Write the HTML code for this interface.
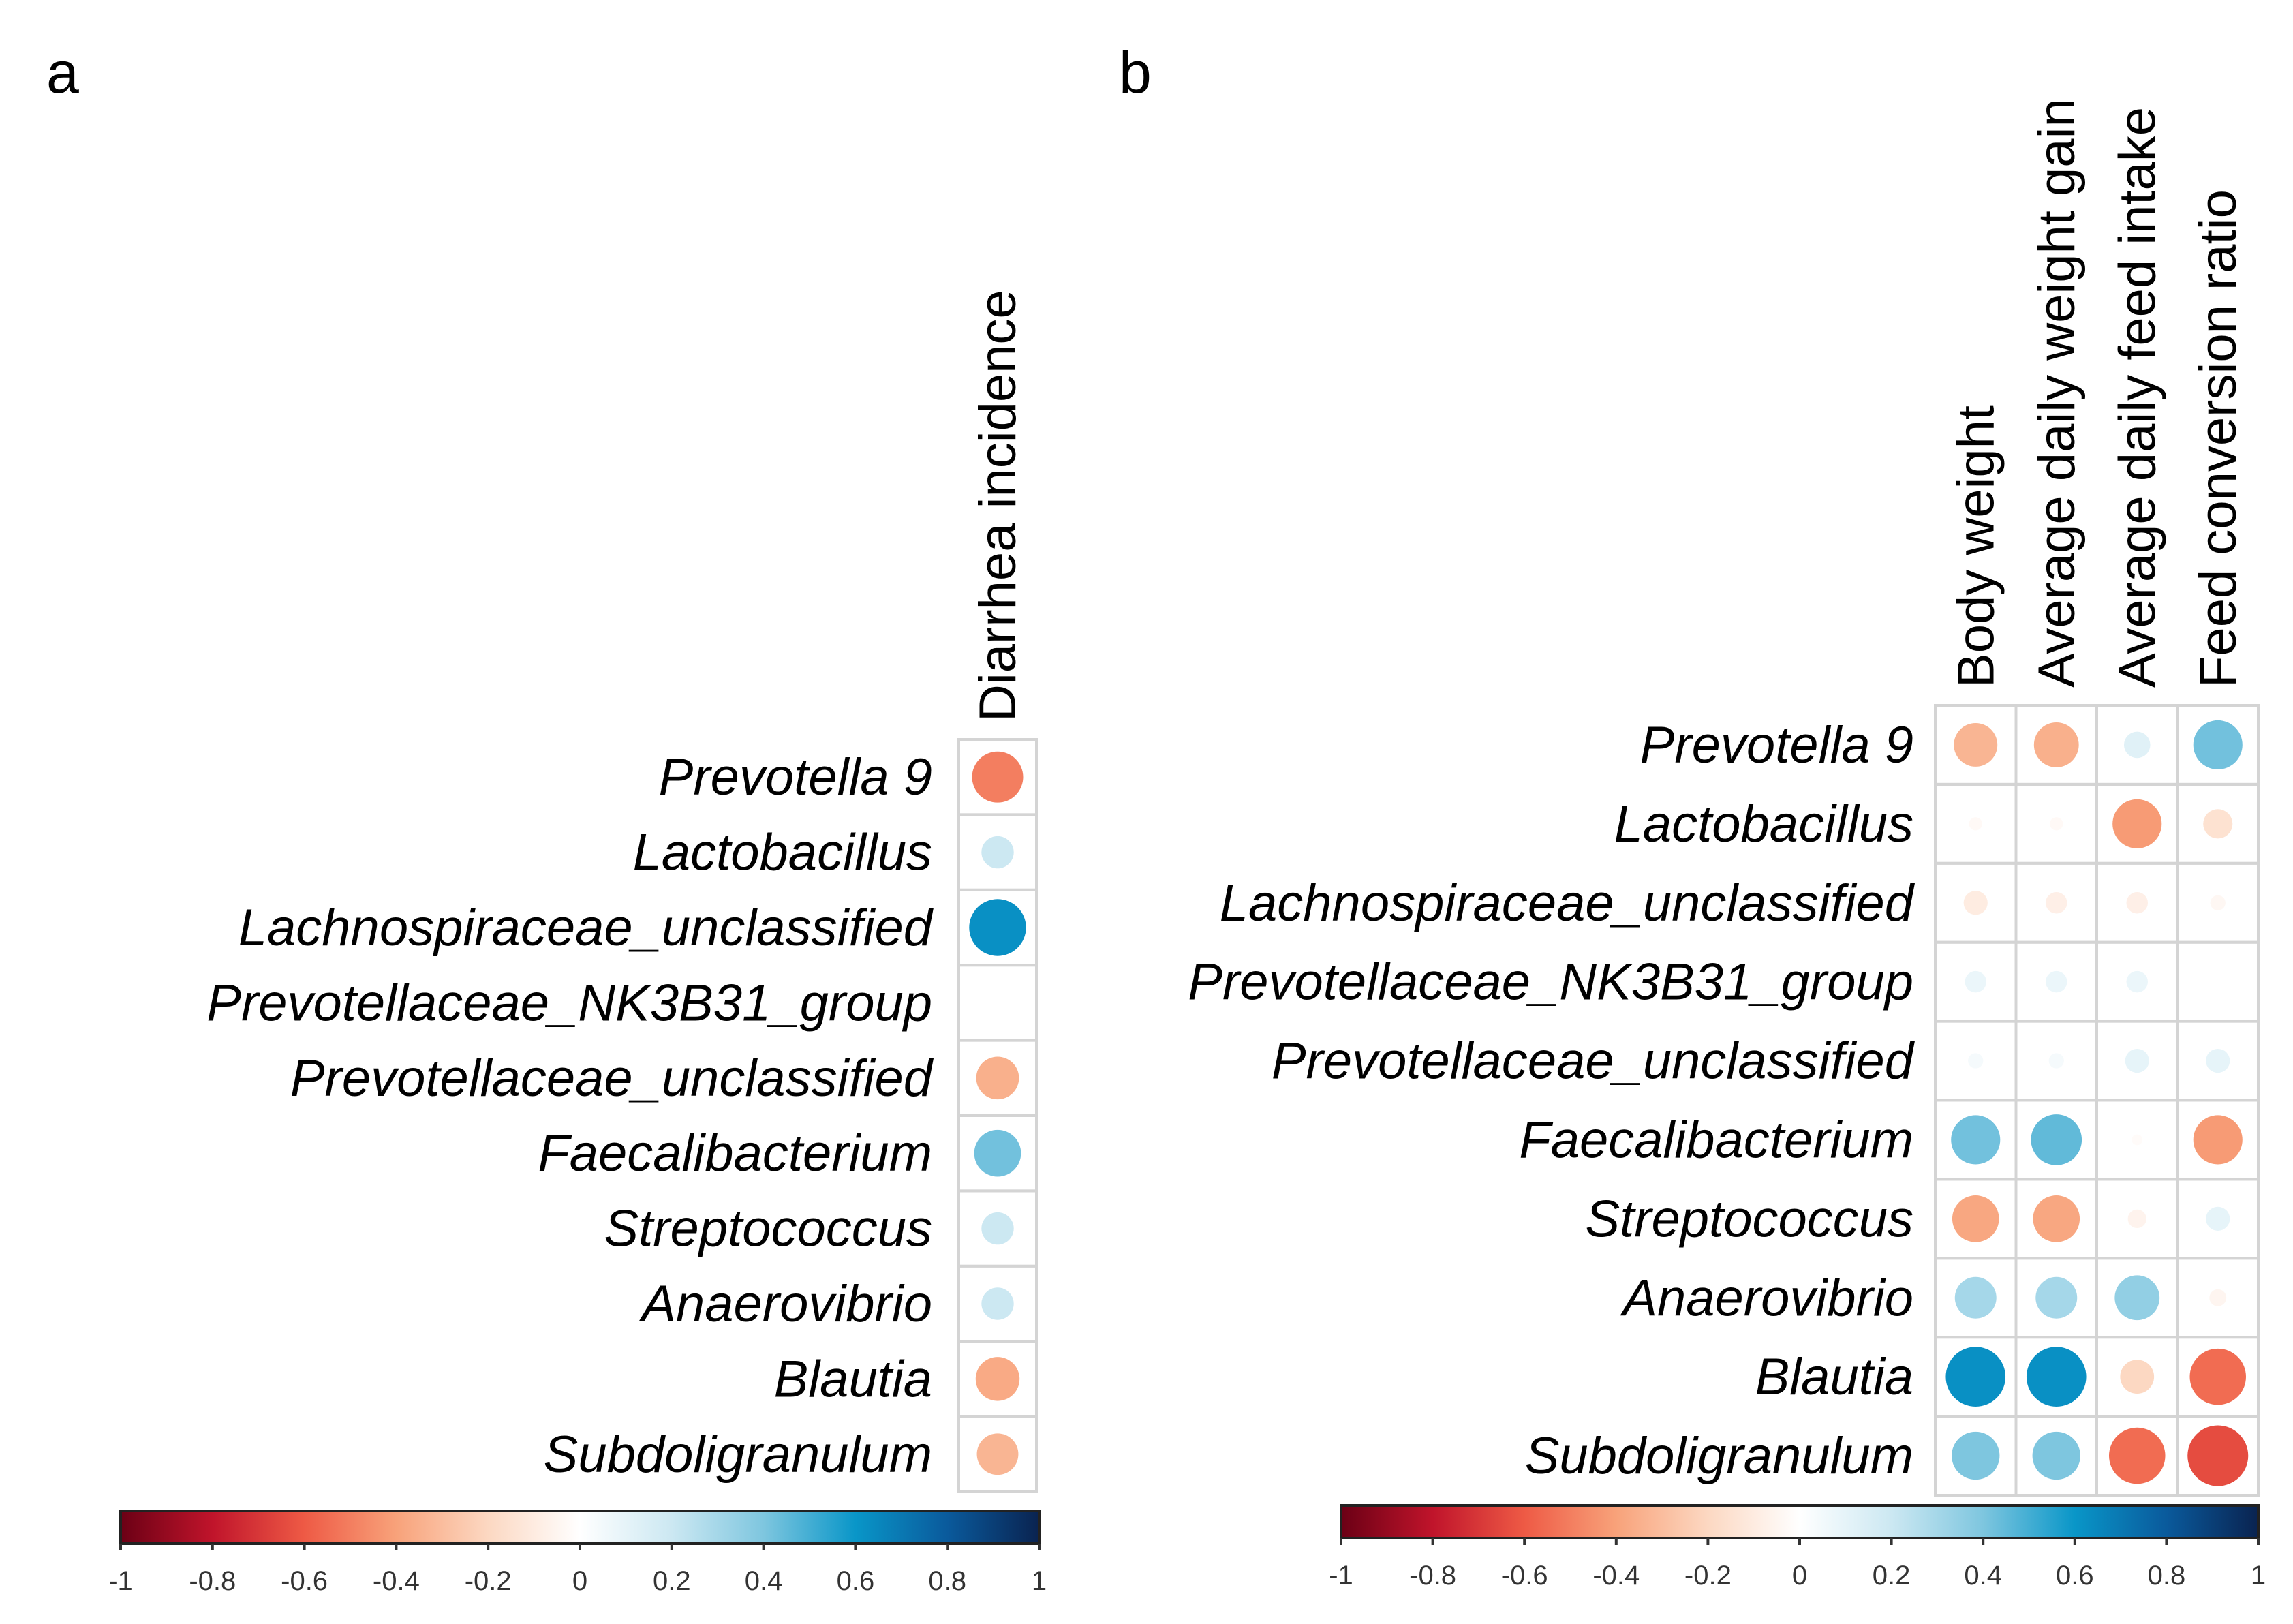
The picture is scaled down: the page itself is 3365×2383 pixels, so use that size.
<!DOCTYPE html>
<html><head><meta charset="utf-8"><style>
html,body{margin:0;padding:0;background:#fff;}
svg{display:block;font-family:"Liberation Sans",Arial,sans-serif;}
</style></head><body>
<svg id="fig" width="3365" height="2383" viewBox="0 0 3365 2383" xmlns="http://www.w3.org/2000/svg">
<defs>
<linearGradient id="cbar" x1="0" x2="1" y1="0" y2="0">
<stop offset="0" stop-color="#6b0015"/><stop offset="0.1" stop-color="#c0142b"/><stop offset="0.2" stop-color="#ee5a45"/><stop offset="0.3" stop-color="#f8a27a"/><stop offset="0.4" stop-color="#fcd8c2"/><stop offset="0.5" stop-color="#ffffff"/><stop offset="0.6" stop-color="#cce8f2"/><stop offset="0.7" stop-color="#7ec6df"/><stop offset="0.8" stop-color="#0996c8"/><stop offset="0.9" stop-color="#0a5a9c"/><stop offset="1" stop-color="#0a2350"/>
</linearGradient>
</defs>
<text x="68" y="136" font-size="86">a</text>
<text x="1642" y="136" font-size="86">b</text>
<g id="pa"></g>
<g id="pb"></g>
</svg>
<script>
const taxaA = ["Prevotella 9","Lactobacillus","Lachnospiraceae_unclassified","Prevotellaceae_NK3B31_group","Prevotellaceae_unclassified","Faecalibacterium","Streptococcus","Anaerovibrio","Blautia","Subdoligranulum"];
const taxaB = taxaA.slice();
const colsA = ["Diarrhea incidence"];
const colsB = ["Body weight","Average daily weight gain","Average daily feed intake","Feed conversion ratio"];
const valsA = [-0.5,0.2,0.62,0,-0.35,0.42,0.2,0.2,-0.37,-0.33];
const bodyWeight = [-0.33,-0.03,-0.1,0.08,0.04,0.42,-0.38,0.3,0.62,0.4];
const dailyGain = [-0.35,-0.03,-0.08,0.08,0.04,0.45,-0.38,0.3,0.62,0.4];
const feedIntake = [0.12,-0.42,-0.08,0.08,0.1,-0.02,-0.06,0.35,-0.2,-0.55];
const feedConv = [0.42,-0.15,-0.04,0,0.1,-0.42,0.1,-0.05,-0.55,-0.64];
const tickLabels = ["-1","-0.8","-0.6","-0.4","-0.2","0","0.2","0.4","0.6","0.8","1"];
const tickVals = [-1,-0.8,-0.6,-0.4,-0.2,0,0.2,0.4,0.6,0.8,1];

const NS="http://www.w3.org/2000/svg";
const stops=[[-1,[107,0,21]],[-0.8,[192,20,43]],[-0.6,[238,90,69]],[-0.4,[248,162,122]],[-0.2,[252,216,194]],[0,[255,255,255]],[0.2,[204,232,242]],[0.4,[126,198,223]],[0.6,[9,150,200]],[0.8,[10,90,156]],[1,[10,35,80]]];
function colorOf(v){for(let i=0;i<stops.length-1;i++){const a=stops[i],b=stops[i+1];if(v<=b[0]){const t=(v-a[0])/(b[0]-a[0]);const c=a[1].map((x,k)=>Math.round(x+(b[1][k]-x)*t));return `rgb(${c})`;}}return "rgb(10,35,80)";}
function mk(tag,attrs,parent){const e=document.createElementNS(NS,tag);for(const k in attrs)e.setAttribute(k,attrs[k]);parent.appendChild(e);return e;}

function panel(g,p){
  const nR=p.rows.length,nC=p.cols.length;
  const cw=(p.x1-p.x0)/nC, rh=(p.y1-p.y0)/nR;
  const xC=j=>p.x0+cw*(j+0.5), yC=i=>p.y0+rh*(i+0.5);
  for(let i=0;i<nR;i++){
    for(let j=0;j<nC;j++){
      const cell=mk('rect',{x:p.x0+cw*j,y:p.y0+rh*i,width:cw,height:rh,fill:'none',stroke:'#d4d4d4','stroke-width':4},g);
      
      
      const v=p.series[j][i];
      const r=Math.min(cw,rh)*0.48*Math.sqrt(Math.abs(v));
      if(r>0){
        const c=mk('circle',{cx:xC(j),cy:yC(i),r:r,fill:colorOf(v)},g);
        
        
      }
    }
    const t=mk('text',{x:p.labelX,y:yC(i)+26,'font-size':76,'font-style':'italic','text-anchor':'end'},g);
    t.textContent=p.rows[i];
    
    
  }
  for(let j=0;j<nC;j++){
    const x=xC(j)+26,y=p.y0-26;
    const t=mk('text',{x:x,y:y,'font-size':76,transform:`rotate(-90 ${x} ${y})`},g);
    t.textContent=p.cols[j];
    
    
  }
  const cb=mk('rect',{x:p.cbx0,y:p.cby,width:p.cbx1-p.cbx0,height:48,fill:'url(#cbar)',stroke:'#222','stroke-width':4},g);
  
  
  const sx=v=>p.cbx0+(v+1)/2*(p.cbx1-p.cbx0);
  tickVals.forEach((v,k)=>{
    const tk=mk('line',{x1:sx(v),x2:sx(v),y1:p.cby+48,y2:p.cby+58,stroke:'#333','stroke-width':4},g);
    
    
    const tl=mk('text',{x:sx(v),y:p.cby+116,'font-size':40,'text-anchor':'middle',fill:'#333'},g);
    tl.textContent=tickLabels[k];
    
    
  });
}
panel(document.getElementById('pa'),{rows:taxaA,cols:colsA,series:[valsA],x0:1407,x1:1521,y0:1085,y1:2189,labelX:1368,cbx0:177,cbx1:1525,cby:2217});
panel(document.getElementById('pb'),{rows:taxaB,cols:colsB,series:[bodyWeight,dailyGain,feedIntake,feedConv],x0:2840,x1:3314,y0:1035,y1:2194,labelX:2808,cbx0:1968,cbx1:3314,cby:2209});
</script>
</body></html>
